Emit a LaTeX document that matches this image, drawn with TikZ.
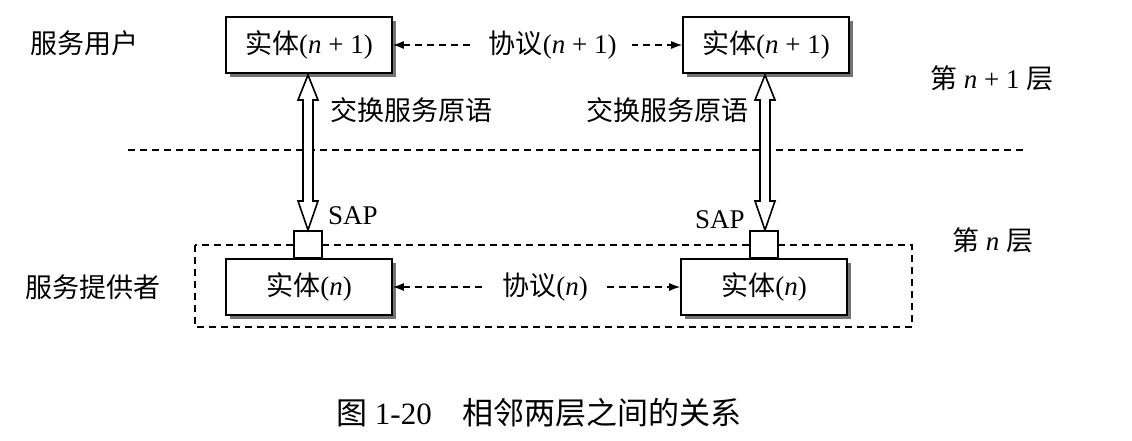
\documentclass[tikz,border=0pt]{standalone}
\usepackage{fontspec}
\setmainfont{Liberation Serif}
\newfontfamily\cjk{Noto Sans CJK SC}
\usetikzlibrary{arrows.meta,shadows}
\tikzset{
  ent/.style={draw, line width=1.6pt, fill=white, minimum width=166pt, minimum height=56pt,
    inner sep=0pt, font=\fontsize{27}{30}\selectfont,
    drop shadow={shadow xshift=4pt, shadow yshift=-4pt, fill=black!55, opacity=1}},
  sapbox/.style={draw, line width=1.6pt, fill=white, minimum width=28pt, minimum height=27pt, inner sep=0pt},
  lbl/.style={font=\fontsize{27}{30}\selectfont, inner sep=0pt},
  pdash/.style={line width=1.3pt, dash pattern=on 7pt off 5pt, {Latex[length=11pt,width=8pt]}-{Latex[length=11pt,width=8pt]}},
  dbl/.style={line width=1.6pt, fill=white, line join=miter},
}
\newcommand{\dblarr}[3]{%
  \draw[dbl] (#1,#2) -- ++(10,25) -- ++(-5,0) -- (#1+5,#3-29) -- ++(5,0) -- (#1,#3)
    -- ++(-10,-29) -- ++(5,0) -- (#1-5,#2+25) -- ++(-5,0) -- cycle;}
\begin{document}
\begin{tikzpicture}[x=1pt,y=-1pt]
\useasboundingbox (0,0) rectangle (1132,440);
% layer separator and provider frame
\draw[line width=1.3pt, dash pattern=on 7pt off 5pt] (128,150) -- (1025,150);
\draw[line width=1.3pt, dash pattern=on 7pt off 5pt] (195,245) rectangle (912,327);
% entities
\node[ent] (t1) at (309,45) {{\cjk 实体}(\textit{n} + 1)};
\node[ent] (t2) at (766,45) {{\cjk 实体}(\textit{n} + 1)};
\node[ent] (b1) at (309,287) {{\cjk 实体}(\textit{n})};
\node[ent] (b2) at (764,287) {{\cjk 实体}(\textit{n})};
% SAP boxes
\node[sapbox] (s1) at (308,244.5) {};
\node[sapbox] (s2) at (764,244.5) {};
% double arrows
\dblarr{308}{75}{230}
\dblarr{765}{75}{230}
% protocols
\draw[pdash] (t1.east) -- (t2.west)
  node[pos=0.553, fill=white, lbl, inner xsep=15pt, inner ysep=2pt] {{\cjk 协议}(\textit{n} + 1)};
\draw[pdash] (b1.east) -- (b2.west)
  node[pos=0.53, fill=white, lbl, inner xsep=15pt, inner ysep=2pt] {{\cjk 协议}(\textit{n})};
% labels
\node[lbl, anchor=west] (u) at (30,43) {\cjk 服务用户};
\node[lbl, anchor=west] (p) at (25,287) {\cjk 服务提供者};
\node[lbl, anchor=west] (l1) at (930,78) {{\cjk 第} \textit{n} + 1 {\cjk 层}};
\node[lbl, anchor=west] (l0) at (952,240) {{\cjk 第} \textit{n} {\cjk 层}};
\node[lbl, anchor=west] (x1) at (330,110) {\cjk 交换服务原语};
\node[lbl, anchor=west] (x2) at (586,110) {\cjk 交换服务原语};
\node[lbl, anchor=west] (sap1) at (328,216) {SAP};
\node[lbl, anchor=west] (sap2) at (695,220) {SAP};
\node[font=\fontsize{31}{34}\selectfont, inner sep=0pt] (cap) at (539,413) {{\cjk 图} 1-20\hspace{1em}{\cjk 相邻两层之间的关系}};
\end{tikzpicture}
\end{document}
